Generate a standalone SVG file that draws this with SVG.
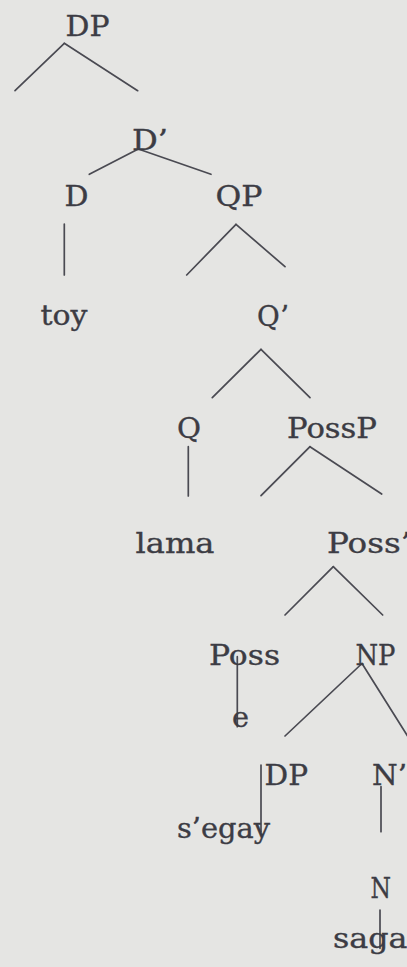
<svg xmlns="http://www.w3.org/2000/svg" width="407" height="967" viewBox="0 0 407 967">
<style>
  text { font-family: "DejaVu Serif", "Liberation Serif", serif; font-size: 27.5px; fill: #3c3c44; stroke: #3c3c44; stroke-width: 0.35; }
  .edge { stroke: #4a4a52; stroke-width: 1.7; stroke-linecap: round; fill: none; }
</style>
<rect width="407" height="967" fill="#e5e5e3"/>
<g id="connectors">
  <line class="edge" x1="64.3" y1="43.3" x2="15" y2="90.7"/>
  <line class="edge" x1="64.3" y1="43.3" x2="137.7" y2="90.7"/>
  <line class="edge" x1="138.3" y1="149" x2="89.3" y2="174.3"/>
  <line class="edge" x1="138.3" y1="149" x2="211" y2="174.3"/>
  <line class="edge" x1="64.3" y1="224" x2="64.3" y2="275"/>
  <line class="edge" x1="236" y1="224.3" x2="186.7" y2="275"/>
  <line class="edge" x1="236" y1="224.3" x2="285" y2="266.7"/>
  <line class="edge" x1="261" y1="349.3" x2="212.3" y2="397.7"/>
  <line class="edge" x1="261" y1="349.3" x2="310" y2="397.7"/>
  <line class="edge" x1="188.3" y1="446.7" x2="188.3" y2="496"/>
  <line class="edge" x1="310" y1="446.7" x2="261" y2="495.7"/>
  <line class="edge" x1="310" y1="446.7" x2="381.7" y2="494"/>
  <line class="edge" x1="333.3" y1="566.7" x2="285" y2="615"/>
  <line class="edge" x1="333.3" y1="566.7" x2="382.7" y2="615"/>
  <line class="edge" x1="237.3" y1="656.7" x2="237.3" y2="726.7"/>
  <line class="edge" x1="362" y1="663.5" x2="285" y2="736"/>
  <line class="edge" x1="362" y1="663.5" x2="410" y2="740"/>
  <line class="edge" x1="261" y1="765" x2="261" y2="831.7"/>
  <line class="edge" x1="381" y1="786.7" x2="381" y2="831.7"/>
  <line class="edge" x1="380" y1="910" x2="380" y2="948.3"/>
</g>
<g id="n-DP"><text x="65.5" y="36" textLength="44" lengthAdjust="spacingAndGlyphs">DP</text></g>
<g id="n-Dbar"><text x="132" y="149.5" textLength="36" lengthAdjust="spacingAndGlyphs">D’</text></g>
<g id="n-D"><text x="64.5" y="206" textLength="24" lengthAdjust="spacingAndGlyphs">D</text></g>
<g id="n-QP"><text x="215.5" y="206" textLength="47" lengthAdjust="spacingAndGlyphs">QP</text></g>
<g id="n-toy"><text x="40.5" y="325" textLength="47" lengthAdjust="spacingAndGlyphs">toy</text></g>
<g id="n-Qbar"><text x="257" y="325.5" textLength="32" lengthAdjust="spacingAndGlyphs">Q’</text></g>
<g id="n-Q"><text x="177" y="437.5" textLength="24" lengthAdjust="spacingAndGlyphs">Q</text></g>
<g id="n-PossP"><text x="287" y="438.3" textLength="90" lengthAdjust="spacingAndGlyphs">PossP</text></g>
<g id="n-lama"><text x="135.5" y="552.7" textLength="79" lengthAdjust="spacingAndGlyphs">lama</text></g>
<g id="n-Possbar"><text x="327" y="552.7" textLength="84" lengthAdjust="spacingAndGlyphs">Poss’</text></g>
<g id="n-Poss"><text x="209" y="665" textLength="71" lengthAdjust="spacingAndGlyphs">Poss</text></g>
<g id="n-NP"><text x="355.5" y="665" textLength="40" lengthAdjust="spacingAndGlyphs">NP</text></g>
<g id="n-e"><text x="232" y="726.7" textLength="17" lengthAdjust="spacingAndGlyphs">e</text></g>
<g id="n-DP2"><text x="264.5" y="785" textLength="43.5" lengthAdjust="spacingAndGlyphs">DP</text></g>
<g id="n-Nbar"><text x="372" y="785" textLength="35" lengthAdjust="spacingAndGlyphs">N’</text></g>
<g id="n-segay"><text x="177" y="838.3" textLength="93" lengthAdjust="spacingAndGlyphs">s’egay</text></g>
<g id="n-N"><text x="370.5" y="898.3" textLength="20.5" lengthAdjust="spacingAndGlyphs">N</text></g>
<g id="n-saga"><text x="333" y="948.3" textLength="74.5" lengthAdjust="spacingAndGlyphs">saga</text></g>
</svg>
